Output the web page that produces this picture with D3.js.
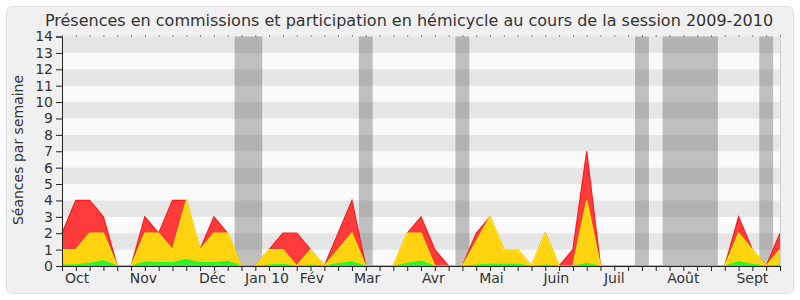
<!DOCTYPE html>
<html>
<head>
<meta charset="utf-8">
<script src="https://cdn.jsdelivr.net/npm/d3@7"></script>
<style>
  body { margin: 0; background: #fff; }
  text { font-family: "DejaVu Sans", Verdana, sans-serif; fill: #333; }
  .axis path, .axis line { stroke: #222; }
</style>
</head>
<body>
<script>
// Weekly values (53 weeks, Oct 2009 -> Sept 2010)
var presenceCommission = [2,4,4,3,0, 0,3,2,4,4, 1,3,2,0,0, 1,2,2,1,0, 2,4,0,0,0, 2,3,1,0,0,
    2,3,1,1,0, 2,0,1,7,0, 0,0,0,0,0, 0,0,0,0,3, 1,0,2];
var presenceHemicycle = [1,1,2,2,0, 0,2,2,1,4, 1,2,2,0,0, 1,1,0,1,0, 1,2,0,0,0, 2,2,0,0,0,
    1.5,3,1,1,0, 2,0,0,4,0, 0,0,0,0,0, 0,0,0,0,2, 1,0,1];
var interventions = [0.06,0.07,0.16,0.33,0, 0,0.25,0.2,0.2,0.4, 0.2,0.2,0.28,0,0, 0.05,0.1,0,0.05,0,
    0.15,0.26,0,0,0, 0.15,0.3,0,0,0, 0.05,0.1,0.1,0.1,0, 0.05,0,0,0.15,0,
    0,0,0,0,0, 0,0,0,0,0.26, 0.1,0,0.05];

// Vacation weeks (start, end in week units)
var vacances = [[12.5, 14.5], [21.5, 22.5], [28.5, 29.5], [41.5, 42.5], [43.5, 47.5], [50.5, 51.5]];

// Month labels and their position in weeks
var moisLabels = ["Oct", "Nov", "Déc", "Jan 10", "Fév", "Mar", "Avr", "Mai", "Juin", "Juil", "Août", "Sept"];
var moisPos = [1.1, 5.9, 10.9, 14.85, 18.1, 22.1, 26.9, 31.1, 35.8, 40, 45, 50];

var yTicks = d3.range(0, 15);

var W = 800, H = 300;
var margin = { top: 36.5, right: 20, bottom: 34, left: 62 },
    width = W - margin.left - margin.right,
    height = H - margin.top - margin.bottom;

var svg = d3.select("body").append("svg")
    .attr("width", W)
    .attr("height", H);

// Panel
svg.append("rect")
    .attr("x", 6.5).attr("y", 6.5)
    .attr("width", W - 13).attr("height", H - 13)
    .attr("rx", 6)
    .attr("fill", "#f0f0f0")
    .attr("stroke", "#dedede");

// Title
svg.append("text")
    .attr("x", 409)
    .attr("y", 26)
    .attr("text-anchor", "middle")
    .style("font-size", "16px")
    .text("Présences en commissions et participation en hémicycle au cours de la session 2009-2010");

var g = svg.append("g")
    .attr("transform", "translate(" + margin.left + "," + margin.top + ")");

var x = d3.scaleLinear().domain([0, presenceCommission.length - 1]).range([0, width]);
var y = d3.scaleLinear().domain([0, 14]).range([height, 0]);

// Stripes
g.selectAll(".stripe")
    .data(yTicks.slice(0, -1))
    .enter().append("rect")
    .attr("x", 0)
    .attr("y", function (d) { return y(d + 1); })
    .attr("width", width)
    .attr("height", function (d) { return y(d) - y(d + 1); })
    .attr("fill", function (d) { return d % 2 ? "#e6e6e6" : "#fafafa"; });

// Vacation bands
g.selectAll(".vac")
    .data(vacances)
    .enter().append("rect")
    .attr("x", function (d) { return x(d[0]); })
    .attr("y", 0)
    .attr("width", function (d) { return x(d[1]) - x(d[0]); })
    .attr("height", height)
    .attr("fill", "rgba(80,80,80,0.35)");

// Areas
function area(values) {
    return d3.area()
        .x(function (d, i) { return x(i); })
        .y0(height)
        .y1(function (d) { return y(d); })(values);
}
function line(values) {
    return d3.line()
        .x(function (d, i) { return x(i); })
        .y(function (d) { return y(d); })(values);
}

var series = [
    { values: presenceCommission, fill: "#ff3b3b", stroke: "#ff1a1a" },
    { values: presenceHemicycle, fill: "#ffd30f", stroke: "#ffee00" },
    { values: interventions, fill: "#33ee33", stroke: "#22ff22" }
];

series.forEach(function (s) {
    g.append("path")
        .attr("d", area(s.values))
        .attr("fill", s.fill);
    g.append("path")
        .attr("d", line(s.values))
        .attr("fill", "none")
        .attr("stroke", s.stroke)
        .attr("stroke-width", 1.2);
});

// Right border
g.append("line")
    .attr("x1", width + 0.5).attr("x2", width + 0.5)
    .attr("y1", 0).attr("y2", height)
    .attr("stroke", "#cfcfcf");

// Y axis
var yAxis = g.append("g")
    .attr("class", "axis")
    .call(d3.axisLeft(y).tickValues(yTicks).tickSize(6).tickPadding(3).tickFormat(d3.format("d")));
yAxis.selectAll("text").style("font-size", "14px").attr("fill", "#333");

// X axis (week ticks)
g.append("g")
    .attr("class", "axis")
    .attr("transform", "translate(0," + height + ")")
    .call(d3.axisBottom(x).ticks(52).tickSize(5).tickFormat(""));

// Top dotted ticks
g.append("g")
    .attr("class", "axis top")
    .call(d3.axisTop(x).ticks(52).tickSize(1).tickFormat(""))
    .select(".domain").remove();

// Month labels
g.selectAll(".mois")
    .data(moisLabels)
    .enter().append("text")
    .attr("x", function (d, i) { return x(moisPos[i]); })
    .attr("y", height + 17)
    .attr("text-anchor", "middle")
    .style("font-size", "14px")
    .text(function (d) { return d; });

// Y label
svg.append("text")
    .attr("transform", "translate(23,150) rotate(-90)")
    .attr("text-anchor", "middle")
    .style("font-size", "14px")
    .text("Séances par semaine");
</script>
</body>
</html>
